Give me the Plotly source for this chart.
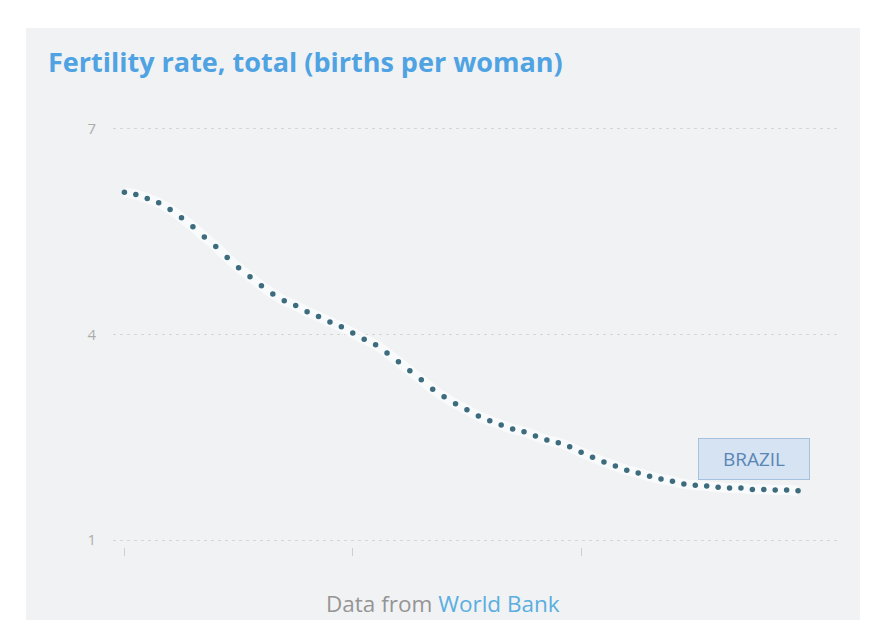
import plotly.graph_objects as go

years = list(range(1960, 2020))
fertility = [6.07, 6.04, 5.98, 5.92, 5.82, 5.70, 5.57, 5.42, 5.28, 5.12,
             4.97, 4.84, 4.71, 4.59, 4.49, 4.42, 4.33, 4.26, 4.18, 4.11,
             4.02, 3.93, 3.85, 3.73, 3.60, 3.47, 3.34, 3.20, 3.09, 2.99,
             2.90, 2.81, 2.74, 2.68, 2.62, 2.58, 2.52, 2.46, 2.42, 2.36,
             2.28, 2.21, 2.14, 2.08, 2.02, 1.98, 1.93, 1.89, 1.86, 1.82,
             1.80, 1.79, 1.77, 1.76, 1.76, 1.74, 1.74, 1.73, 1.73, 1.72]
country = "BRAZIL"
y_ticks = [1, 4, 7]
x_ticks = [1960, 1980, 2000]
title = "Fertility rate, total (births per woman)"

W, H = 869, 630
L, R, T, B = 105, 39, 100, 91
PW, PH = W - L - R, H - T - B


def px(x):
    return (x - L) / PW


def py(y):
    return (H - B - y) / PH


fig = go.Figure()

# soft halo behind the dots
fig.add_trace(go.Scatter(x=years, y=fertility, mode="lines",
                         line=dict(color="rgba(255,255,255,0.6)", width=10, shape="spline"),
                         hoverinfo="skip", showlegend=False))
fig.add_trace(go.Scatter(x=years, y=fertility, mode="markers",
                         marker=dict(size=5.5, color="#3d6c7f"),
                         name=country, showlegend=False))

fig.add_annotation(x=years[-1], y=fertility[-1], xref="x", yref="y",
                   text=country, showarrow=False, xshift=-44, yshift=32,
                   width=108, height=38, borderpad=1,
                   bgcolor="#d5e3f3", bordercolor="#a6c1de", borderwidth=1,
                   font=dict(family="Open Sans", size=19, color="#5a86b5"))

fig.add_annotation(x=px(435), y=py(595), xref="paper", yref="paper",
                   text="Data from <span style='color:#5aaee0'>World Bank</span>",
                   showarrow=False, xanchor="center", yanchor="middle",
                   font=dict(family="Open Sans", size=22.5, color="#959595"))

fig.add_shape(type="rect", xref="paper", yref="paper",
              x0=px(18), x1=px(852), y0=py(612), y1=py(20),
              fillcolor="#f1f2f4", line=dict(width=0), layer="below")

fig.update_layout(
    width=W, height=H,
    paper_bgcolor="white", plot_bgcolor="rgba(0,0,0,0)",
    margin=dict(l=L, r=R, t=T, b=B),
    title=dict(text="<b>" + title + "</b>", x=40 / W, xanchor="left",
               y=1 - 55 / H, yanchor="middle",
               font=dict(family="Open Sans", size=27, color="#4fa3e2")),
    xaxis=dict(range=[1959.0, 2022.5], tickvals=x_ticks, showticklabels=False,
               ticks="outside", ticklen=8, tickcolor="#cfcfcf", tickwidth=1,
               showgrid=False, zeroline=False, showline=False),
    yaxis=dict(range=[0.9, 7.3], tickvals=y_ticks, ticks="",
               ticklabelstandoff=16,
               tickfont=dict(family="Open Sans", size=15, color="#adadad"),
               showgrid=True, gridcolor="#d6d6d6", gridwidth=1, griddash="3px,4px",
               zeroline=False, showline=False),
)

fig.write_html("out.html")
